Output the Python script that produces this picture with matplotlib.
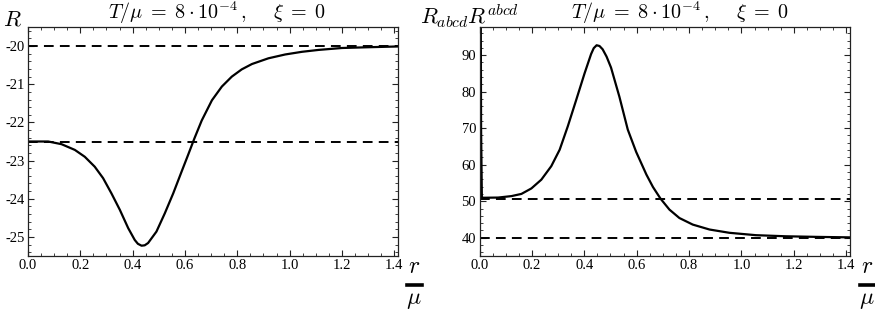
import matplotlib
matplotlib.use("Agg")
import matplotlib.pyplot as plt
from matplotlib.ticker import MultipleLocator, FuncFormatter
from matplotlib.lines import Line2D
import numpy as np

plt.rcParams['font.family'] = ['Liberation Serif', 'DejaVu Serif']
plt.rcParams['mathtext.fontset'] = 'cm'

# Left panel: scalar curvature R vs r/mu
r_left = [0.0, 0.077, 0.128, 0.179, 0.217, 0.255, 0.287, 0.319, 0.351, 0.383,
          0.408, 0.42, 0.434, 0.446, 0.459, 0.491, 0.523, 0.555, 0.587, 0.612,
          0.636, 0.664, 0.703, 0.741, 0.779, 0.817, 0.856, 0.919, 0.983, 1.047,
          1.111, 1.2, 1.302, 1.414]
R_left = [-22.5, -22.5, -22.57, -22.72, -22.9, -23.16, -23.46, -23.86, -24.29, -24.77,
          -25.08, -25.18, -25.23, -25.22, -25.16, -24.86, -24.38, -23.86, -23.29, -22.85,
          -22.42, -21.95, -21.42, -21.06, -20.80, -20.61, -20.47, -20.32, -20.22, -20.15,
          -20.10, -20.05, -20.03, -20.01]
R_dashed = [-20.0, -22.5]

# Right panel: Kretschmann scalar vs r/mu
r_right = [0.0, 0.003, 0.006, 0.009, 0.018, 0.071, 0.122, 0.16, 0.198, 0.236,
           0.274, 0.306, 0.337, 0.369, 0.401, 0.426, 0.436, 0.447, 0.458, 0.47,
           0.485, 0.502, 0.534, 0.566, 0.598, 0.637, 0.662, 0.691, 0.725, 0.763,
           0.814, 0.878, 0.954, 1.055, 1.169, 1.283, 1.414]
K_right = [300.0, 150.0, 70.0, 51.0, 50.95, 51.0, 51.4, 52.0, 53.5, 55.9,
           59.6, 64.1, 70.5, 77.7, 85.0, 90.3, 91.9, 92.7, 92.5, 91.6,
           89.6, 86.6, 78.6, 69.6, 63.5, 57.3, 53.9, 50.7, 47.7, 45.4,
           43.6, 42.25, 41.35, 40.7, 40.4, 40.24, 40.1]
K_dashed = [50.7, 40.0]

title = r'$T/\mu\;=\;8\cdot 10^{-4}\,,\quad\ \xi\;=\;0$'

W, H = 875, 315
fig = plt.figure(figsize=(W / 100, H / 100), dpi=100)

def px(x0, y0, x1, y1):
    return [x0 / W, 1 - y1 / H, (x1 - x0) / W, (y1 - y0) / H]

axL = fig.add_axes(px(28, 27, 398, 256))
axR = fig.add_axes(px(479.5, 27, 850, 256))

def fmt_x(v, pos):
    return f'{v:.1f}'

def fmt_y(v, pos):
    return f'{v:.0f}'.replace('\u2212', '-')

frame_col = '#222222'
for ax in (axL, axR):
    ax.set_xlim(0, np.sqrt(2))
    ax.xaxis.set_major_locator(MultipleLocator(0.2))
    ax.xaxis.set_minor_locator(MultipleLocator(0.05))
    ax.xaxis.set_major_formatter(FuncFormatter(fmt_x))
    ax.yaxis.set_major_formatter(FuncFormatter(fmt_y))
    ax.tick_params(which='both', direction='in', top=True, right=True,
                   color=frame_col, labelsize=10.5, pad=2.5)
    ax.tick_params(which='major', length=4.5, width=0.8)
    ax.tick_params(which='minor', length=2.5, width=0.6)
    for s in ax.spines.values():
        s.set_color(frame_col)
        s.set_linewidth(0.9)

# Left
axL.set_ylim(-25.5, -19.5)
axL.yaxis.set_major_locator(MultipleLocator(1))
axL.yaxis.set_minor_locator(MultipleLocator(0.2))
for yv in R_dashed:
    axL.axhline(yv, color='black', lw=1.4, ls=(0, (5, 3.2)))
axL.plot(r_left, R_left, color='black', lw=1.6, solid_joinstyle='round')

# Right
axR.set_ylim(35, 97.7)
axR.yaxis.set_major_locator(MultipleLocator(10))
axR.yaxis.set_minor_locator(MultipleLocator(2))
for yv in K_dashed:
    axR.axhline(yv, color='black', lw=1.4, ls=(0, (5, 3.2)))
axR.plot(r_right, K_right, color='black', lw=1.6, solid_joinstyle='round')

# Titles
fig.text(217 / W, 1 - 19.5 / H, title, ha='center', va='baseline', fontsize=14.5)
fig.text(680 / W, 1 - 19.5 / H, title, ha='center', va='baseline', fontsize=14.5)

# Y labels
fig.text(3 / W, 1 - 26 / H, r'$R$', ha='left', va='baseline', fontsize=16)
fig.text(420 / W, 1 - 24 / H, r'$R_{abcd}R^{abcd}$', ha='left', va='baseline', fontsize=16)

# x labels as fraction r / mu
for xl in (414, 867):
    fig.text(xl / W, 1 - 273 / H, r'$r$', ha='center', va='baseline', fontsize=17)
    fig.add_artist(Line2D([(xl - 7.5) / W, (xl + 7.5) / W],
                          [1 - 284.5 / H, 1 - 284.5 / H],
                          color='black', lw=2.6, transform=fig.transFigure))
    fig.text(xl / W, 1 - 304 / H, r'$\mu$', ha='center', va='baseline', fontsize=17)

fig.savefig('out.png', dpi=100)
